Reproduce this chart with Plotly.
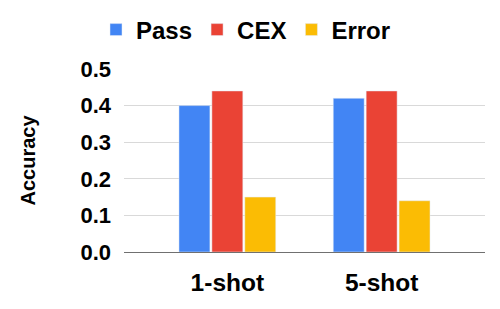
import plotly.graph_objects as go

categories = ["1-shot", "5-shot"]
pass_vals = [0.40, 0.42]
cex_vals = [0.44, 0.44]
error_vals = [0.15, 0.14]
y_ticks = [0.0, 0.1, 0.2, 0.3, 0.4, 0.5]
y_tick_labels = ["0.0", "0.1", "0.2", "0.3", "0.4", "0.5"]

fig = go.Figure()
fig.add_trace(go.Bar(name="Pass", x=categories, y=pass_vals, marker_color="#4285F4"))
fig.add_trace(go.Bar(name="CEX", x=categories, y=cex_vals, marker_color="#EA4335"))
fig.add_trace(go.Bar(name="Error", x=categories, y=error_vals, marker_color="#FBBC04"))

font = "Liberation Sans, Arial, sans-serif"
W, H = 500, 309
L, R, T, B = 124, 15, 69, 57
fig.update_layout(
    width=W, height=H,
    margin=dict(l=L, r=R, t=T, b=B, autoexpand=False),
    paper_bgcolor="white", plot_bgcolor="white",
    barmode="group", bargap=0.36, bargroupgap=0.06,
    font=dict(family=font, color="black"),
    showlegend=True,
    legend=dict(orientation="h", x=0.492, xref="container", xanchor="center",
                y=1 - 30 / H, yref="container", yanchor="middle",
                font=dict(size=24, family=font, color="black", weight="bold"),
                itemwidth=30, traceorder="normal"),
    xaxis=dict(range=[-0.67, 1.67], showgrid=False, showline=True, linecolor="#707070",
               linewidth=1, ticks="", automargin=False, ticklabelstandoff=9,
               tickfont=dict(size=24.5, weight="bold")),
    yaxis=dict(range=[0, 0.5], tickvals=y_ticks, ticktext=y_tick_labels,
               showgrid=True, gridcolor="#d9d9d9", zeroline=False, automargin=False,
               tickfont=dict(size=22, weight="bold"), ticklabelstandoff=12),
    annotations=[dict(text="<b>Accuracy</b>", textangle=-90,
                      x=(27 - L) / (W - L - R), xref="paper",
                      y=0.5, yref="paper", showarrow=False, xanchor="center",
                      yanchor="middle", font=dict(size=20, color="black"))],
)
fig.write_html("out.html", config={"displayModeBar": False},
               post_script="document.body.style.margin='0';")
